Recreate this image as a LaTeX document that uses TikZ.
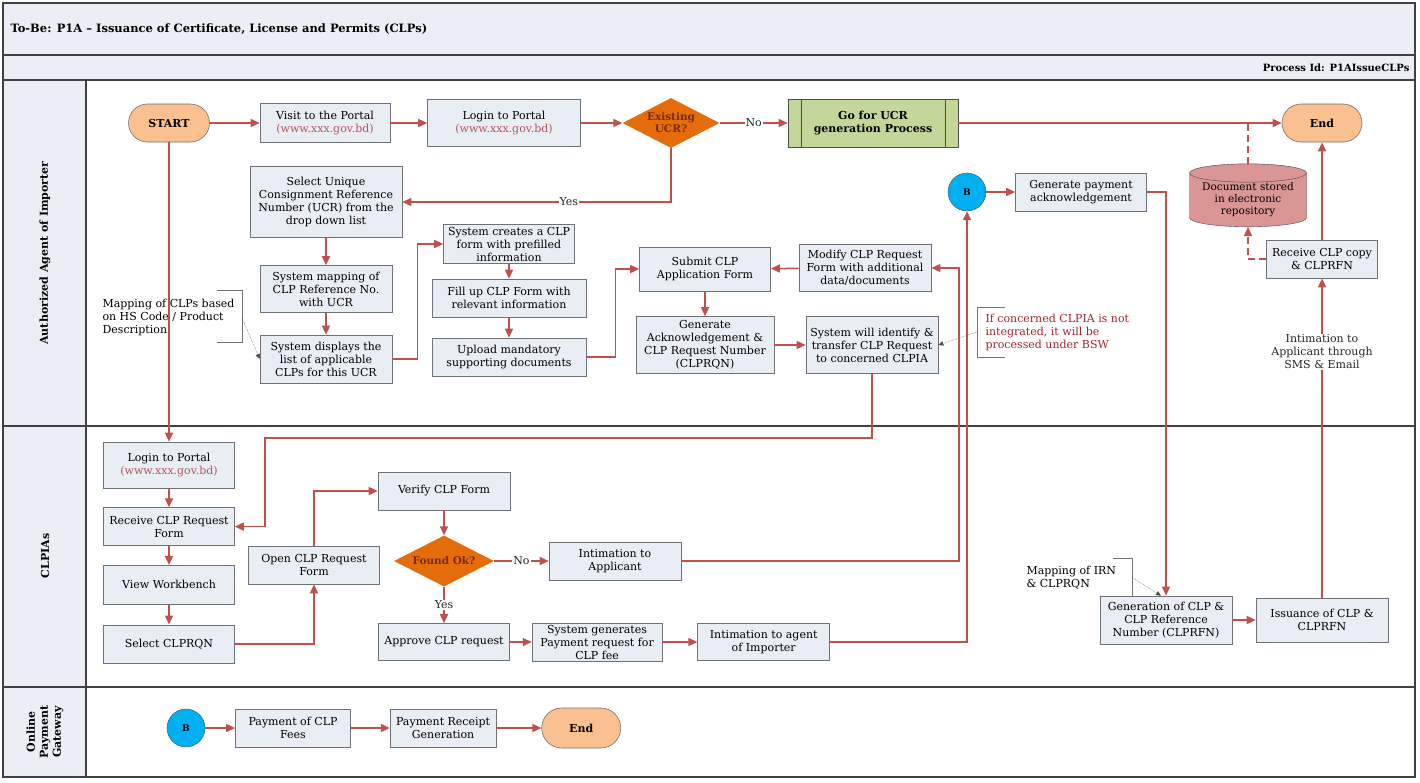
\documentclass[tikz,border=0pt]{standalone}
\usepackage{fontspec}
\setmainfont{DejaVu Serif}
\usetikzlibrary{positioning,shapes.geometric,arrows.meta,calc}

\definecolor{flowred}{HTML}{C0504D}
\definecolor{boxfill}{HTML}{E9EDF4}
\definecolor{boxline}{HTML}{6E7277}
\definecolor{termfill}{HTML}{FAC090}
\definecolor{decfill}{HTML}{E46C0A}
\definecolor{dectext}{HTML}{7A2A10}
\definecolor{predfill}{HTML}{C4D79B}
\definecolor{storefill}{HTML}{D99694}
\definecolor{connfill}{HTML}{00B0F0}
\definecolor{urlred}{HTML}{B5535E}
\definecolor{notered}{HTML}{A3232F}
\definecolor{bandfill}{HTML}{EBEEF5}

\newcommand{\weblink}[1]{\textcolor{urlred}{#1}}

\tikzset{
  proc/.style={draw=boxline, fill=boxfill, line width=0.6pt, align=center, inner sep=1pt},
  term/.style={draw=boxline, fill=termfill, line width=0.6pt, rounded corners=19pt, font=\bfseries\fontsize{11}{13}\selectfont},
  decide/.style={diamond, fill=decfill, inner sep=0pt, aspect=2, align=center, text=dectext, font=\bfseries\fontsize{10.5}{12}\selectfont},
  predef/.style={draw=black!70, fill=predfill, line width=0.6pt, align=center, font=\bfseries\fontsize{11}{13}\selectfont,
    path picture={\draw[black!70, line width=0.6pt]
      ([xshift=13pt]path picture bounding box.north west) -- ([xshift=13pt]path picture bounding box.south west)
      ([xshift=-13pt]path picture bounding box.north east) -- ([xshift=-13pt]path picture bounding box.south east);}},
  conn/.style={circle, draw=black!70, fill=connfill, minimum size=38pt, inner sep=0pt, font=\bfseries\fontsize{9}{11}\selectfont},
  store/.style={cylinder, shape border rotate=90, aspect=0.2, draw=black!70, fill=storefill, align=center, inner sep=0pt, font=\fontsize{10.5}{12}\selectfont},
  flow/.style={draw=flowred, line width=1.5pt, -{Triangle[length=9pt,width=8pt]}},
  link/.style={draw=flowred, line width=1.5pt},
  broken/.style={dash pattern=on 7pt off 4pt},
  pointer/.style={densely dotted, draw=black!70, line width=0.5pt, -{Triangle[length=5pt,width=4.5pt]}},
  bracket/.style={draw=black!55, line width=0.5pt},
  lane/.style={draw=black!75, line width=1.4pt},
  lanetitle/.style={rotate=90, align=center, font=\bfseries\fontsize{11}{13}\selectfont},
  onlabel/.style={fill=white, inner sep=1pt, text=black!85},
}

\begin{document}
\begin{tikzpicture}[x=1pt, y=-1pt, font=\fontsize{11}{13}\selectfont]
    \useasboundingbox (0,0) rectangle (1420,782);
    \fill[bandfill] (3,3) rectangle (1415,80);
    \fill[bandfill] (3,80) rectangle (86,777);
    \draw[lane] (3,3) rectangle (1415,777);
    \draw[lane] (3,55) -- (1415,55);
    \draw[lane] (3,80) -- (1415,80);
    \draw[lane] (86,80) -- (86,777);
    \draw[lane] (3,426) -- (1415,426);
    \draw[lane] (3,687) -- (1415,687);

    \node[anchor=west, font=\bfseries\fontsize{11.5}{13}\selectfont] (title) at (7,29) {To-Be: P1A – Issuance of Certificate, License and Permits (CLPs)};
    \node[anchor=east, font=\bfseries\fontsize{10}{12}\selectfont] (procid) at (1413,68) {Process Id: P1AIssueCLPs};

    \node[lanetitle] (agentlane) at (45,253) {Authorized Agent of Importer};
    \node[lanetitle] (clpialane) at (45,556) {CLPIAs};
    \node[lanetitle] (paylane) at (45,732) {Online\\Payment\\Gateway};

    \node[term, minimum width=81pt, minimum height=38pt] (start) at (169,123) {START};
    \node[proc, minimum width=130pt, minimum height=39pt] (visit) at (325,123) {Visit to the Portal\\\weblink{(www.xxx.gov.bd)}};
    \node[proc, minimum width=153pt, minimum height=47pt] (login) at (504,123) {Login to Portal\\\weblink{(www.xxx.gov.bd)}};
    \node[decide, minimum width=97pt, minimum height=50pt] (existucr) at (671,123) {Existing\\UCR?};
    \node[predef, minimum width=170pt, minimum height=48pt] (ucrgen) at (873,123) {Go for UCR\\generation Process};
    \node[term, minimum width=80pt, minimum height=38pt] (finish) at (1322,123) {End};
    \node[proc, minimum width=152pt, minimum height=71pt] (selucr) at (326,202) {Select Unique\\Consignment Reference\\Number (UCR) from the\\drop down list};
    \node[proc, minimum width=132pt, minimum height=47pt] (sysmap) at (326,289) {System mapping of\\CLP Reference No.\\with UCR};
    \node[proc, minimum width=132pt, minimum height=48pt] (sysdisp) at (326,359) {System displays the\\list of applicable\\CLPs for this UCR};
    \node[proc, minimum width=131pt, minimum height=39pt] (sysform) at (509,244) {System creates a CLP\\form with prefilled\\information};
    \node[proc, minimum width=154pt, minimum height=38pt] (fillup) at (509,298) {Fill up CLP Form with\\relevant information};
    \node[proc, minimum width=154pt, minimum height=38pt] (upload) at (509,357) {Upload mandatory\\supporting documents};
    \node[proc, minimum width=131pt, minimum height=44pt] (submit) at (705,269) {Submit CLP\\Application Form};
    \node[proc, minimum width=138pt, minimum height=57pt] (genack) at (705,345) {Generate\\Acknowledgement \&\\CLP Request Number\\(CLPRQN)};
    \node[proc, minimum width=132pt, minimum height=57pt] (identify) at (872,345) {System will identify \&\\transfer CLP Request\\to concerned CLPIA};
    \node[proc, minimum width=132pt, minimum height=47pt] (modify) at (865,268) {Modify CLP Request\\Form with additional\\data/documents};
    \node[conn] (bagent) at (967,192) {B};
    \node[proc, minimum width=131pt, minimum height=38pt] (genpay) at (1081,192) {Generate payment\\acknowledgement};
    \node[store, minimum width=117pt, minimum height=63pt] (repo) at (1248,200) {Document stored\\in electronic\\repository};
    \node[proc, minimum width=111pt, minimum height=38pt] (recvcopy) at (1322,259) {Receive CLP copy\\\& CLPRFN};

    \node[anchor=west, align=left] (mapnote) at (99,317) {Mapping of CLPs based\\on HS Code / Product\\Description};
    \coordinate (mapbrk) at (242,318);
    \draw[bracket] (217,290) -- (242,290) -- (242,342) -- (217,342);
    \draw[pointer] (mapbrk) -- (sysdisp.west);
    \node[anchor=west, align=left, text=notered] (bswnote) at (982,332) {If concerned CLPIA is not\\integrated, it will be\\processed under BSW};
    \coordinate (bswbrk) at (977,332);
    \draw[bracket] (1005,307) -- (977,307) -- (977,357) -- (1005,357);
    \draw[pointer] (bswbrk) -- (identify.east);

    \node[proc, minimum width=131pt, minimum height=46pt] (clplogin) at (169,465) {Login to Portal\\\weblink{(www.xxx.gov.bd)}};
    \node[proc, minimum width=131pt, minimum height=38pt, below=19pt of clplogin] (recvreq) {Receive CLP Request\\Form};
    \node[proc, minimum width=131pt, minimum height=39pt, below=19pt of recvreq] (workbench) {View Workbench};
    \node[proc, minimum width=131pt, minimum height=38pt, below=20pt of workbench] (selrqn) {Select CLPRQN};
    \node[proc, minimum width=131pt, minimum height=38pt] (openreq) at (314,565) {Open CLP Request\\Form};
    \node[proc, minimum width=132pt, minimum height=38pt] (verify) at (444,491) {Verify CLP Form};
    \node[decide, minimum width=100pt, minimum height=51pt] (foundok) at (444,561) {Found Ok?};
    \node[proc, minimum width=132pt, minimum height=38pt] (intapp) at (615,561) {Intimation to\\Applicant};
    \node[proc, minimum width=131pt, minimum height=37pt] (approve) at (444,642) {Approve CLP request};
    \node[proc, minimum width=130pt, minimum height=38pt, right=22pt of approve] (sysgen) {System generates\\Payment request for\\CLP fee};
    \node[proc, minimum width=132pt, minimum height=37pt, right=35pt of sysgen] (intagent) {Intimation to agent\\of Importer};
    \node[proc, minimum width=132pt, minimum height=48pt] (clpgen) at (1166,620) {Generation of  CLP \&\\CLP Reference\\Number (CLPRFN)};
    \node[proc, minimum width=132pt, minimum height=44pt] (issue) at (1322,620) {Issuance of CLP \&\\CLPRFN};
    \node[anchor=west, align=left] (irnnote) at (1023,578) {Mapping of IRN\\\& CLPRQN};
    \coordinate (irnbrk) at (1133,578);
    \draw[bracket] (1113,558) -- (1132,558) -- (1132,597);
    \draw[pointer] (irnbrk) -- ([xshift=-5pt]clpgen.north);

    \node[conn] (bpay) at (186,728) {B};
    \node[proc, minimum width=115pt, minimum height=38pt, right=30pt of bpay] (payfee) {Payment of CLP\\Fees};
    \node[proc, minimum width=106pt, minimum height=38pt, right=39pt of payfee] (receipt) {Payment Receipt\\Generation};
    \node[term, minimum width=79pt, minimum height=40pt, rounded corners=20pt, right=45pt of receipt] (payend) {End};

    \coordinate (turnA) at (265,438);
    \coordinate (turnB) at (959,268);

    \draw[flow] (start) -- (visit);
    \draw[flow] (visit) -- (login);
    \draw[flow] (login) -- (existucr);
    \draw[flow] (existucr) -- node[onlabel] {No} (ucrgen);
    \draw[flow] (ucrgen) -- (finish);
    \draw[flow] (existucr.south) |- node[onlabel, pos=0.69] {Yes} (selucr.east);
    \draw[flow] (selucr) -- (sysmap);
    \draw[flow] (sysmap) -- (sysdisp);
    \draw[flow] (sysdisp.east) -- ++(25,0) |- (sysform.west);
    \draw[flow] (sysform) -- (fillup);
    \draw[flow] (fillup) -- (upload);
    \draw[flow] (upload.east) -- ++(29,0) |- (submit.west);
    \draw[flow] (submit) -- (genack);
    \draw[flow] (genack) -- (identify);
    \draw[flow] (modify) -- (submit);
    \draw[flow] (bagent) -- (genpay);
    \draw[flow] (genpay.east) -| (clpgen.north);
    \draw[flow] (recvcopy) -- (finish);
    \draw[flow, broken] (recvcopy.west) -| (repo.south);
    \draw[link, broken] (repo.north) -- (repo.north |- ucrgen.east);

    \draw[flow] (start.south) -- (clplogin.north);
    \draw[flow] (clplogin) -- (recvreq);
    \draw[flow] (recvreq) -- (workbench);
    \draw[flow] (workbench) -- (selrqn);
    \draw[flow] (identify.south) |- (turnA) |- (recvreq.east);
    \draw[flow] (selrqn.east) -| (openreq.south);
    \draw[flow] (openreq.north) |- (verify.west);
    \draw[flow] (verify) -- (foundok);
    \draw[flow] (foundok) -- node[onlabel] {No} (intapp);
    \draw[flow] (foundok) -- node[onlabel] {Yes} (approve);
    \draw[flow] (approve) -- (sysgen);
    \draw[flow] (sysgen) -- (intagent);
    \draw[flow] (intagent.east) -| (bagent.south);
    \draw[flow] (intapp.east) -| (turnB) -- (modify.east);
    \draw[flow] (clpgen) -- (issue);
    \draw[flow] (issue.north) -- node[onlabel, pos=0.77, align=center] {Intimation to\\Applicant through\\SMS \& Email} (recvcopy.south);

    \draw[flow] (bpay) -- (payfee);
    \draw[flow] (payfee) -- (receipt);
    \draw[flow] (receipt) -- (payend);
\end{tikzpicture}
\end{document}
